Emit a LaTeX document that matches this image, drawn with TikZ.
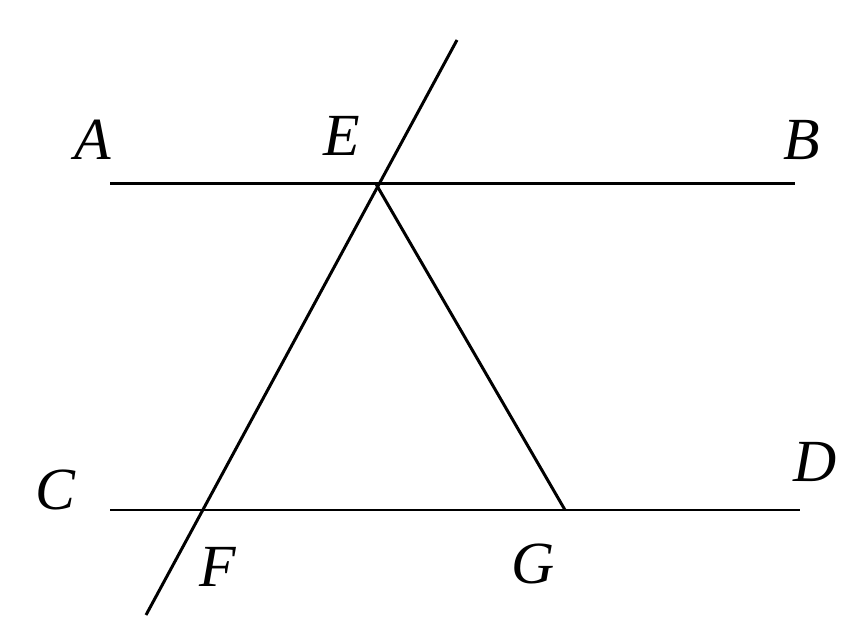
\documentclass[tikz,border=0pt]{standalone}
\usepackage{fontspec}
\setmainfont{Liberation Serif}
\usetikzlibrary{calc}

\begin{document}
\begin{tikzpicture}[
  x=0.01cm, y=-0.01cm,
  edge/.style={line width=0.85pt, black},
  lbl/.style={font=\fontsize{17}{20}\selectfont\itshape, inner sep=0pt}
]
\useasboundingbox (0,0) rectangle (855,619);
% points
\coordinate (a) at (110,184);
\coordinate (b) at (795,184);
\coordinate (c) at (110,510);
\coordinate (d) at (800,510);
\coordinate (e) at (376,184);
\coordinate (f) at (203,510);
\coordinate (g) at (565,510);
\coordinate (top) at (457,40);
\coordinate (bot) at (146,615);

\draw[edge] (a) -- (b);
\draw[edge] (c) -- (d);
\draw[edge] (top) -- (bot);
\draw[edge] (e) -- (g);

\node[lbl] (la) at (93,140) {A};
\node[lbl] (le) at (342,136) {E};
\node[lbl] (lb) at (802,140) {B};
\node[lbl] (lc) at (55,490) {C};
\node[lbl] (ld) at (815,462) {D};
\node[lbl] (lf) at (218,567) {F};
\node[lbl] (lg) at (533,564) {G};
\end{tikzpicture}
\end{document}
